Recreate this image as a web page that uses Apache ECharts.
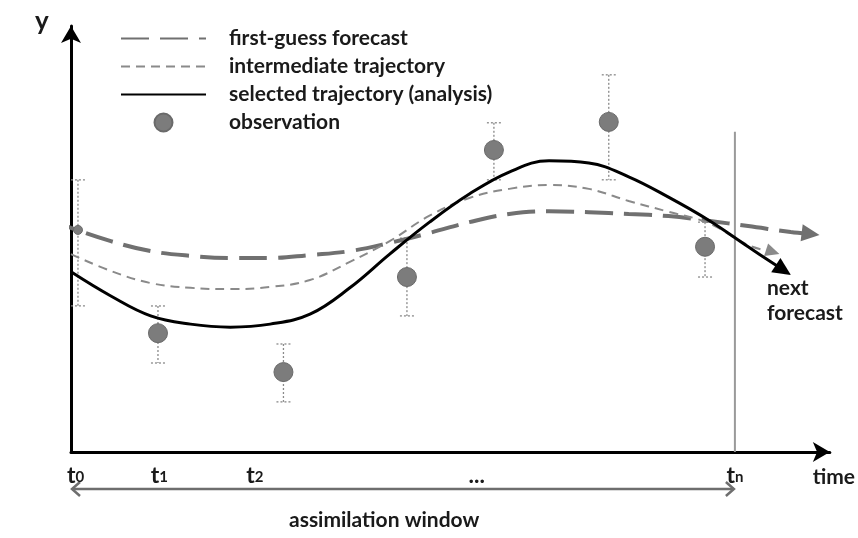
<!DOCTYPE html>
<html>
<head>
<meta charset="utf-8">
<script src="https://cdn.jsdelivr.net/npm/echarts@6/dist/echarts.min.js"></script>
<style>
  html, body { margin: 0; padding: 0; background: #fff; }
  #main { width: 858px; height: 538px; }
</style>
</head>
<body>
<div id="main"></div>
<script>
// time axis: t0 = 0, tn = 10 ; y is an arbitrary state value above the time axis
var tickValues = [0.07, 1.33, 2.77, 6.11, 10];
var tickLabels = ['t0', 't1', 't2', '...', 'tn'];

// curves sampled every 0.6 time units, last point carries the arrow head
var firstGuess = [[-0.87, 5.72], [0, 5.19], [0.6, 4.88], [1.2, 4.65], [1.8, 4.54], [2.4, 4.49],
  [3.0, 4.49], [3.6, 4.56], [4.2, 4.65], [4.8, 4.84], [5.4, 5.07], [6.0, 5.32], [6.6, 5.51],
  [7.2, 5.57], [7.8, 5.55], [8.4, 5.51], [9.0, 5.46], [9.6, 5.35], [10.2, 5.23], [10.84, 5.09],
  [11.14, 5.05]];
var intermediate = [[0, 4.58], [0.6, 4.19], [1.2, 3.91], [1.8, 3.80], [2.4, 3.77], [3.0, 3.82],
  [3.6, 3.98], [4.2, 4.40], [4.8, 4.88], [5.4, 5.47], [6.0, 5.88], [6.6, 6.09], [7.2, 6.18],
  [7.8, 6.09], [8.4, 5.81], [9.0, 5.56], [9.6, 5.30], [10.2, 4.79], [10.57, 4.63]];
var analysis = [[0, 4.17], [0.6, 3.61], [1.2, 3.15], [1.8, 2.96], [2.4, 2.89], [3.0, 2.96],
  [3.6, 3.19], [4.2, 3.80], [4.8, 4.58], [5.4, 5.32], [6.0, 5.97], [6.6, 6.48], [7.2, 6.74],
  [7.8, 6.69], [8.4, 6.37], [9.0, 5.90], [9.6, 5.37], [10.2, 4.75], [10.73, 4.21]];

var obsTime  = [0.105, 1.31, 3.20, 5.06, 6.37, 8.10, 9.55];
var obsValue = [5.14, 2.75, 1.85, 4.05, 6.99, 7.64, 4.75];
var obsLow   = [3.38, 2.06, 1.16, 3.15, 6.30, 6.30, 4.05];
var obsHigh  = [6.30, 3.38, 2.50, 4.95, 7.62, 8.73, 5.32];

var windowEnd = [[10, 0], [10, 7.41]];

var FONT = 'Lato';
var INK = '#1a1a1a';

// line ending with an arrow head on its last point
function withArrow(points, rotate, size) {
  return points.map(function (p, i) {
    if (i < points.length - 1) return p;
    return { value: p, symbol: 'triangle', symbolSize: size, symbolRotate: rotate };
  });
}

var chart = echarts.init(document.getElementById('main'));

chart.setOption({
  animation: false,
  backgroundColor: '#fff',
  grid: { left: 71, right: 26, top: 26, bottom: 86 },
  legend: {
    orient: 'vertical',
    left: 120,
    top: 28,
    padding: 0,
    itemWidth: 85,
    itemHeight: 18,
    itemGap: 7,
    textStyle: { fontFamily: FONT, fontSize: 21, fontWeight: 'bold', color: INK, padding: [0, 0, 0, 18] },
    data: [
      { name: 'first-guess forecast', itemStyle: { opacity: 0 } },
      { name: 'intermediate trajectory', itemStyle: { opacity: 0 } },
      { name: 'selected trajectory (analysis)', itemStyle: { opacity: 0 } },
      { name: 'observation' }
    ]
  },
  xAxis: {
    type: 'value',
    min: 0,
    max: 11.43,
    name: 'time',
    nameGap: 4,
    nameTextStyle: { fontFamily: FONT, fontSize: 21, fontWeight: 'bold', color: INK,
      align: 'center', verticalAlign: 'top', padding: [15, 0, 0, 0] },
    axisLine: { lineStyle: { color: '#000', width: 3 }, symbol: ['none', 'arrow'], symbolSize: [15, 17] },
    axisTick: { show: false },
    splitLine: { show: false },
    axisLabel: {
      customValues: tickValues,
      margin: 12,
      formatter: function (v) {
        var s = tickLabels[tickValues.indexOf(v)];
        if (s && s.length === 2 && s[0] === 't') return '{b|t}{s|' + s[1] + '}';
        return '{b|' + s + '}';
      },
      rich: {
        b: { fontFamily: FONT, fontSize: 23, fontWeight: 'bold', color: INK, padding: [0, 0, 3, 0] },
        s: { fontFamily: FONT, fontSize: 15, fontWeight: 'bold', color: INK }
      }
    }
  },
  yAxis: {
    type: 'value',
    min: 0,
    max: 9.86,
    axisLine: { show: true, lineStyle: { color: '#000', width: 3 }, symbol: ['none', 'arrow'], symbolSize: [15, 17] },
    axisTick: { show: false },
    axisLabel: { show: false },
    splitLine: { show: false }
  },
  series: [
    {
      name: 'error',
      type: 'custom',
      silent: true,
      z: 1,
      data: obsTime.map(function (t, i) { return [t, obsLow[i], obsHigh[i]]; }),
      encode: { x: 0, y: [1, 2] },
      renderItem: function (params, api) {
        var x = api.value(0);
        var lo = api.coord([x, api.value(1)]);
        var hi = api.coord([x, api.value(2)]);
        var st = { stroke: '#8a8a8a', lineWidth: 1.3, lineDash: [2, 2] };
        return {
          type: 'group',
          children: [
            { type: 'line', shape: { x1: hi[0], y1: hi[1], x2: lo[0], y2: lo[1] }, style: st },
            { type: 'line', shape: { x1: hi[0] - 7, y1: hi[1], x2: hi[0] + 7, y2: hi[1] }, style: st },
            { type: 'line', shape: { x1: lo[0] - 7, y1: lo[1], x2: lo[0] + 7, y2: lo[1] }, style: st }
          ]
        };
      }
    },
    {
      name: 'window end',
      type: 'line',
      silent: true,
      symbol: 'none',
      data: windowEnd,
      lineStyle: { color: '#9a9a9a', width: 2 }
    },
    {
      name: 'first-guess forecast',
      type: 'line',
      smooth: 0.4,
      clip: false,
      symbol: 'none',
      data: withArrow(firstGuess, -97, [17, 18]),
      itemStyle: { color: '#707070' },
      lineStyle: { color: '#707070', width: 4, type: [28, 11] }
    },
    {
      name: 'intermediate trajectory',
      type: 'line',
      smooth: 0.4,
      symbol: 'none',
      data: withArrow(intermediate, -108, [13, 14]),
      itemStyle: { color: '#8a8a8a' },
      lineStyle: { color: '#8a8a8a', width: 2, type: [9, 6] }
    },
    {
      name: 'selected trajectory (analysis)',
      type: 'line',
      smooth: 0.4,
      symbol: 'none',
      data: withArrow(analysis, -123, [17, 18]),
      itemStyle: { color: '#000' },
      lineStyle: { color: '#000', width: 3 }
    },
    {
      name: 'observation',
      type: 'scatter',
      z: 5,
      symbolSize: 19,
      data: obsTime.map(function (t, i) {
        return i === 0 ? { value: [t, obsValue[i]], symbolSize: 9 } : [t, obsValue[i]];
      }),
      itemStyle: { color: '#7c7c7c', borderColor: '#6a6a6a', borderWidth: 1, opacity: 1 }
    }
  ]
});

// annotations placed from the axis scale
var p0 = chart.convertToPixel({ gridIndex: 0 }, [0, 0]);
var pn = chart.convertToPixel({ gridIndex: 0 }, [10, 0]);
var ay = p0[1] + 37;
var arrowStyle = { stroke: '#6e6e6e', lineWidth: 2.5, fill: null };

chart.setOption({
  graphic: [
    { type: 'text', left: 35, top: 9,
      style: { text: 'y', font: 'bold 26px ' + FONT, fill: INK } },
    { type: 'text', left: 767, top: 276,
      style: { text: 'next\nforecast', font: 'bold 21px ' + FONT, lineHeight: 25, fill: INK } },
    { type: 'line', shape: { x1: p0[0] + 1, y1: ay, x2: pn[0] - 1, y2: ay }, style: arrowStyle },
    { type: 'polyline', shape: { points: [[p0[0] + 9, ay - 7], [p0[0] + 1, ay], [p0[0] + 9, ay + 7]] }, style: arrowStyle },
    { type: 'polyline', shape: { points: [[pn[0] - 9, ay - 7], [pn[0] - 1, ay], [pn[0] - 9, ay + 7]] }, style: arrowStyle },
    { type: 'text', left: 289, top: 510,
      style: { text: 'assimilation window', font: 'bold 21px ' + FONT, fill: INK } }
  ]
});
</script>
</body>
</html>
